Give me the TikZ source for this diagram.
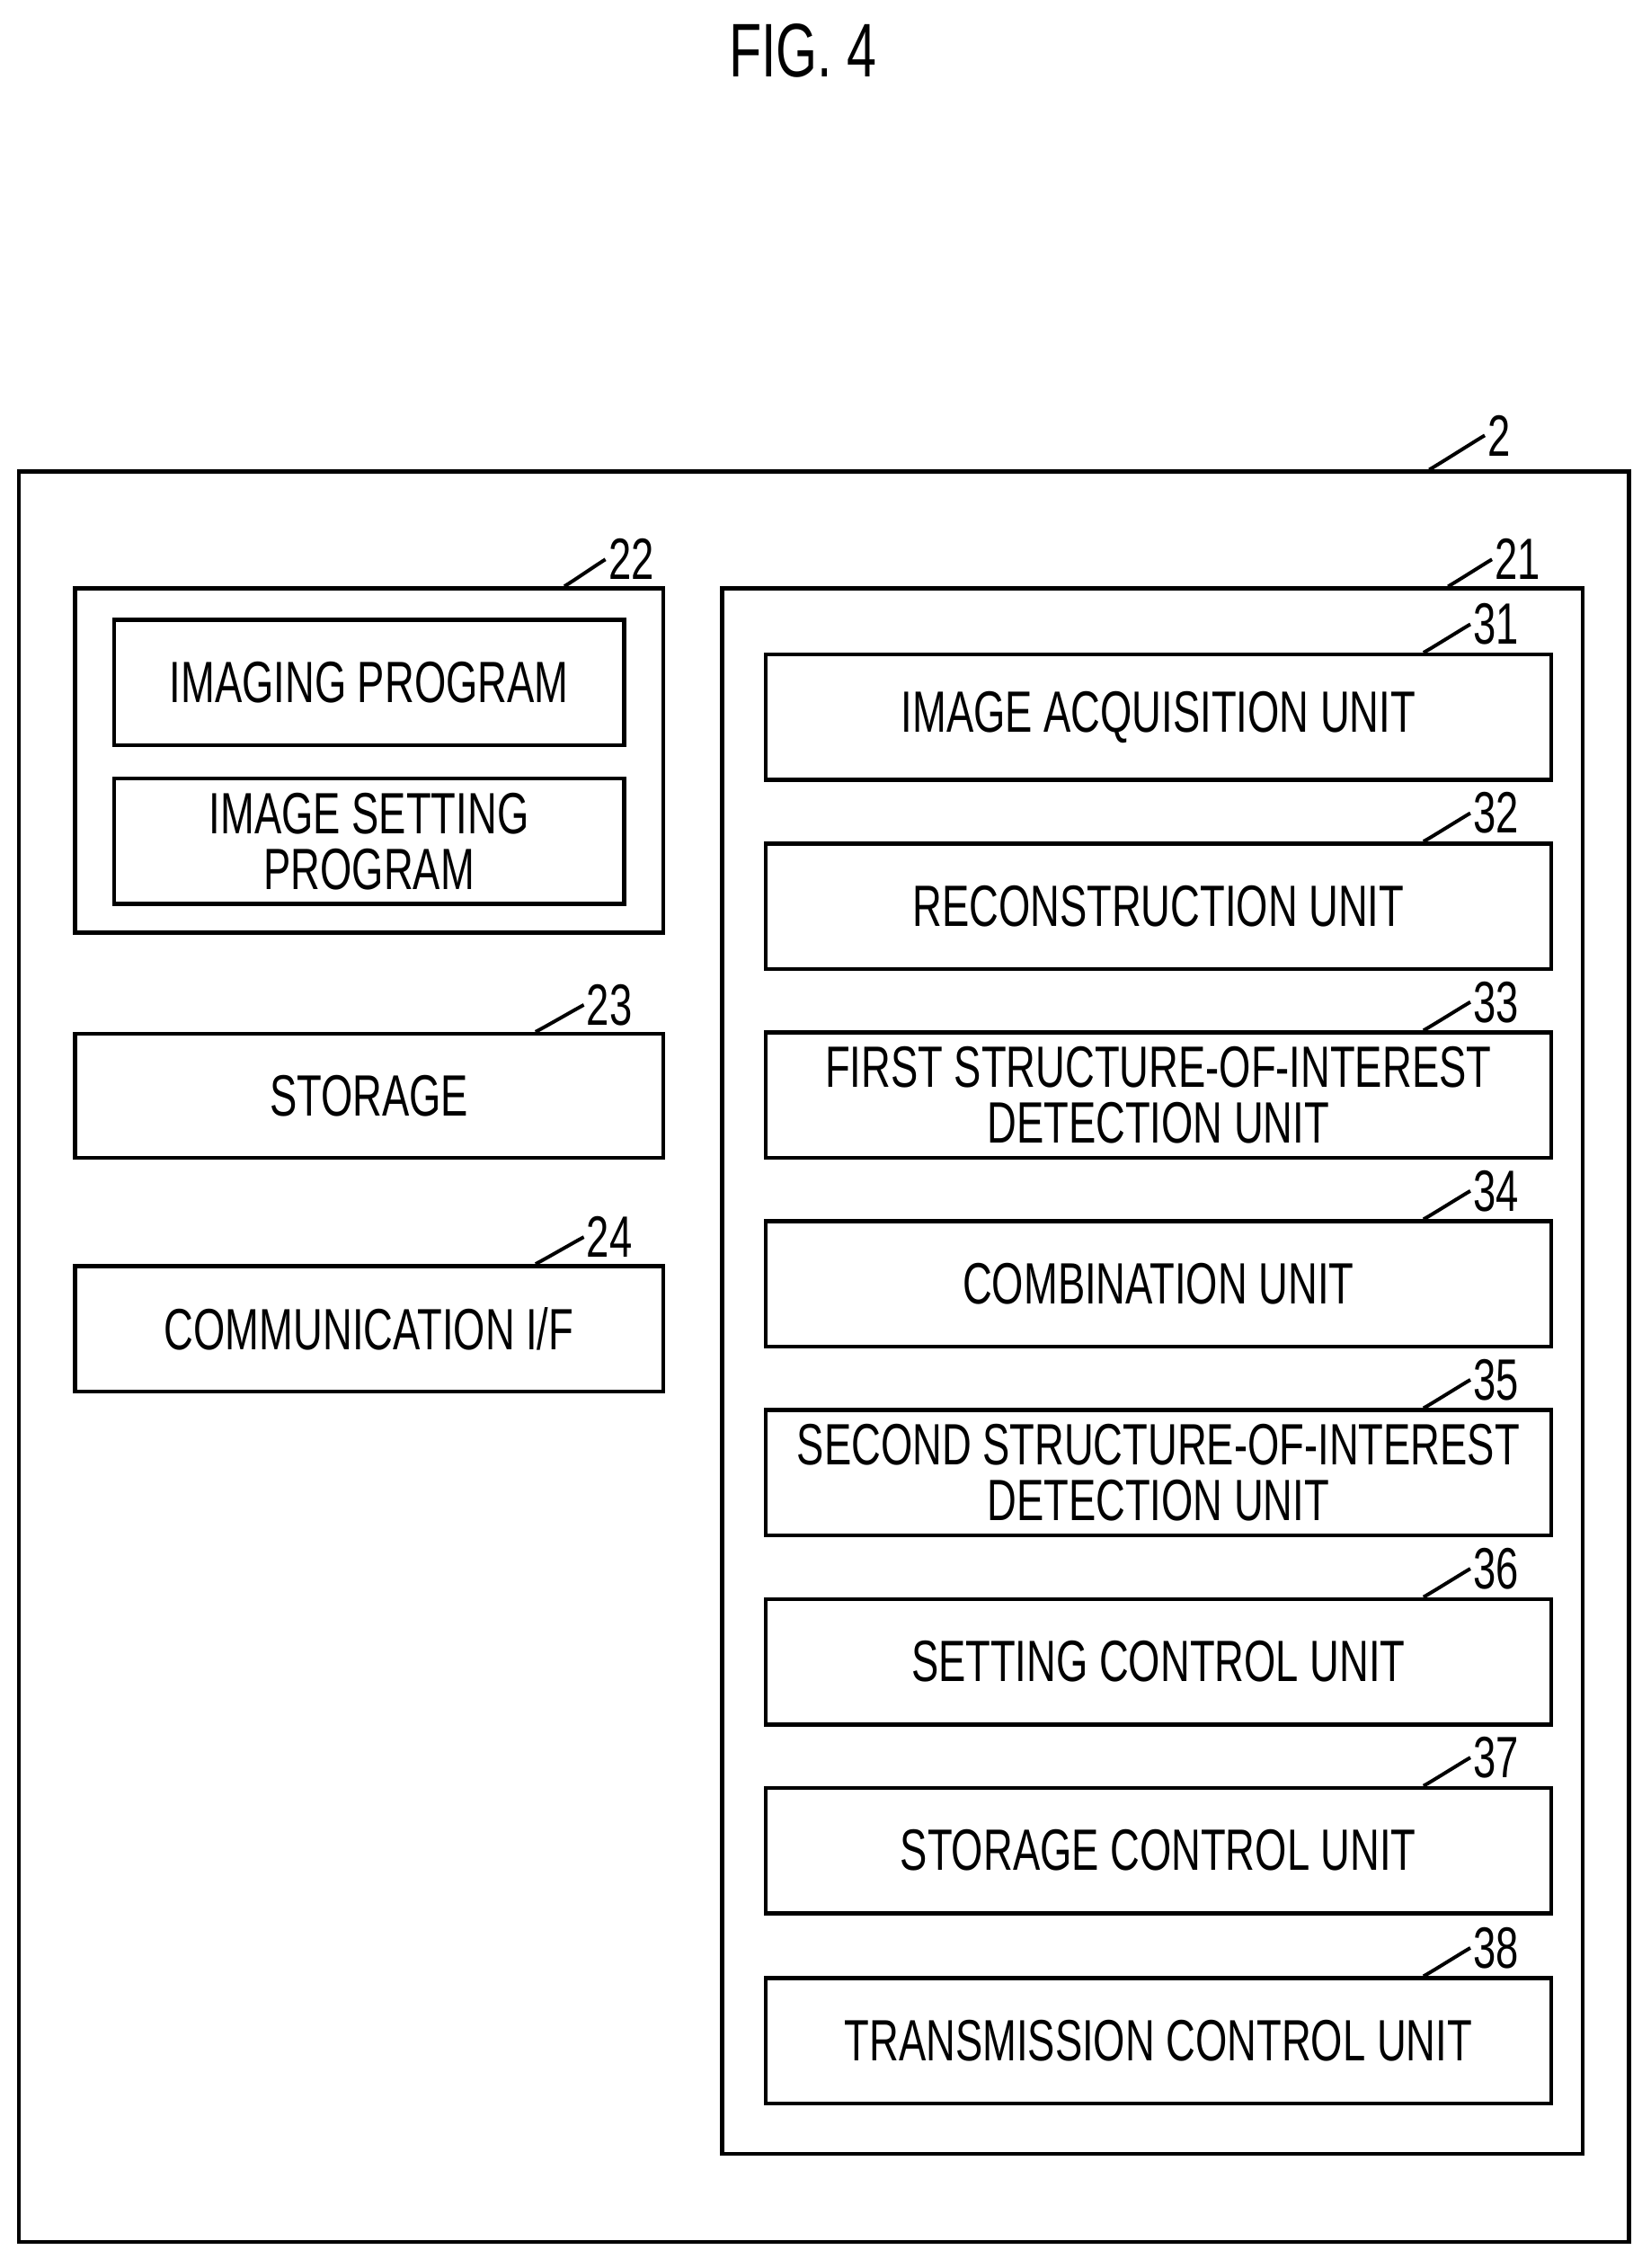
\documentclass[tikz,border=0pt]{standalone}
\usepackage{fontspec}
\setmainfont{Liberation Sans}[FakeStretch=0.7]
\usetikzlibrary{positioning}
\tikzset{
  blk/.style={draw, line width=1.6pt, minimum width=10.9cm, minimum height=1.74cm, align=center, inner sep=0pt},
  prg/.style={draw, line width=1.6pt, minimum width=7.08cm, minimum height=1.74cm, align=center, inner sep=0pt},
  num/.style={inner sep=1pt, anchor=west},
  lead/.style={line width=1.4pt}
}
\newcommand{\leadto}[3]{% node, shift, label node
  \draw[lead] ([xshift=#2]#1.north east) .. controls +(0.05,0.5) and +(-0.55,0) .. (#3.west);}
\begin{document}
\begin{tikzpicture}[x=0.02cm,y=-0.02cm,font=\fontsize{23}{26}\selectfont]
\useasboundingbox (0,0) rectangle (1145,1573);
\node (fig) at (557,35) {\fontsize{30}{32}\selectfont FIG. 4};

% outer device
\node[draw, line width=1.6pt, minimum width=22.34cm, minimum height=24.56cm, inner sep=0pt] (dev) at (571.5,941) {};
\node[num] (n2) at (1030,302) {2};
\leadto{dev}{-2.8cm}{n2}

% left column
\node[draw, line width=1.6pt, minimum width=8.16cm, minimum height=4.78cm, inner sep=0pt] (mem) at (256,527.5) {};
\node[num] (n22) at (420,388) {22};
\leadto{mem}{-1.4cm}{n22}
\node[prg] (imgprog) at (256,473.5) {IMAGING PROGRAM};
\node[prg] (setprog) at (256,583.5) {IMAGE SETTING\\[-4pt]PROGRAM};

\node[draw, line width=1.6pt, minimum width=8.16cm, minimum height=1.72cm, inner sep=0pt] (stor) at (256,760) {STORAGE};
\node[num] (n23) at (405,697) {23};
\leadto{stor}{-1.8cm}{n23}

\node[draw, line width=1.6pt, minimum width=8.16cm, minimum height=1.74cm, inner sep=0pt] (comm) at (256,921.5) {COMMUNICATION I/F};
\node[num] (n24) at (405,858) {24};
\leadto{comm}{-1.8cm}{n24}

% processor
\node[draw, line width=1.6pt, minimum width=11.94cm, minimum height=21.72cm, inner sep=0pt] (cpu) at (799.5,951) {};
\node[num] (n21) at (1035,388) {21};
\leadto{cpu}{-1.9cm}{n21}

\foreach \i/\t/\txt in {31/454/IMAGE ACQUISITION UNIT,
    32/585/RECONSTRUCTION UNIT,
    33/716/{FIRST STRUCTURE-OF-INTEREST\\[-4pt]DETECTION UNIT},
    34/847/COMBINATION UNIT,
    35/978/{SECOND STRUCTURE-OF-INTEREST\\[-4pt]DETECTION UNIT},
    36/1109/SETTING CONTROL UNIT,
    37/1240/STORAGE CONTROL UNIT,
    38/1372/TRANSMISSION CONTROL UNIT} {
  \node[blk] (u\i) at (803.5,\t+43.5) {\txt};
  \node[num] (n\i) at (1020,\t-21) {\i};
  \leadto{u\i}{-1.8cm}{n\i}
}
\end{tikzpicture}
\end{document}
